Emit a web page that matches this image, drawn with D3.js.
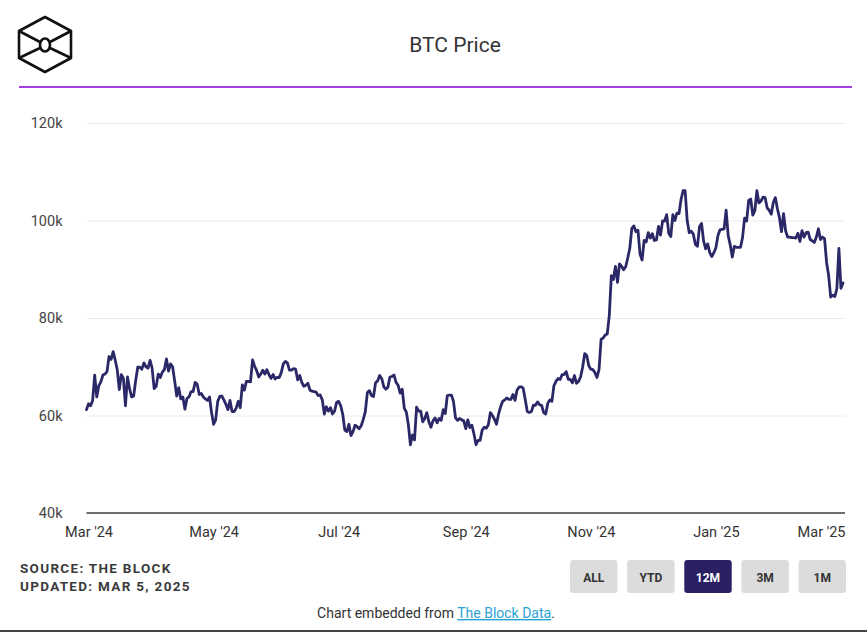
<!DOCTYPE html>
<html>
<head>
<meta charset="utf-8">
<script src="https://cdn.jsdelivr.net/npm/d3@7"></script>
<style>
  html, body { margin: 0; padding: 0; background: #fff; }
  svg { display: block; font-family: Roboto, "Noto Sans", Arial, sans-serif; }
</style>
</head>
<body>
<svg id="chart" width="867" height="635"></svg>
<script>
// ---- DATA (daily close, thousands USD), first day = 2024-02-29 ----
const startDate = "2024-02-29";
const priceK = [
  61.2,
  // Mar 2024
  62.4, 62.0, 63.1, 68.3, 63.8, 66.1, 66.9, 68.3, 68.5, 69.0, 72.1, 71.5, 73.1, 71.4, 69.4, 65.3,
  68.4, 67.6, 62.0, 67.9, 65.5, 63.8, 64.0, 67.2, 69.9, 69.9, 69.5, 70.8, 70.0, 69.7, 71.3,
  // Apr 2024
  69.7, 65.5, 66.0, 68.5, 67.8, 68.9, 69.4, 71.6, 69.1, 70.6, 70.0, 67.1, 64.0, 65.7, 63.4,
  63.8, 61.3, 63.5, 63.8, 64.9, 64.9, 66.8, 66.4, 64.3, 64.5, 63.8, 63.4, 63.1, 63.8, 60.6,
  // May 2024
  58.2, 59.1, 62.9, 63.9, 64.0, 63.2, 62.3, 61.2, 63.1, 60.8, 60.8, 61.5, 62.9, 61.6, 66.3, 65.2,
  67.0, 67.0, 66.9, 71.4, 70.1, 69.2, 67.9, 68.5, 69.3, 68.5, 69.4, 68.4, 67.6, 68.4, 67.5,
  // Jun 2024
  67.8, 67.8, 68.8, 70.6, 71.1, 70.8, 69.3, 69.3, 69.6, 69.5, 67.3, 68.2, 66.8, 66.0, 66.2,
  66.6, 65.2, 65.0, 64.9, 64.8, 64.1, 64.2, 63.2, 60.3, 61.8, 60.9, 61.6, 60.3, 60.9, 62.7,
  // Jul 2024
  62.9, 62.0, 60.2, 57.0, 56.7, 58.2, 55.9, 56.7, 58.0, 57.7, 57.3, 57.9, 59.2, 60.8, 64.7, 65.1,
  64.1, 63.9, 66.7, 67.1, 68.2, 67.6, 65.9, 65.4, 65.8, 67.9, 68.0, 68.3, 66.8, 66.2, 64.6,
  // Aug 2024
  65.4, 61.5, 60.7, 58.1, 54.0, 56.0, 55.0, 61.7, 60.9, 60.9, 58.7, 59.4, 60.6, 58.7, 57.6, 58.9,
  59.5, 58.5, 59.4, 59.0, 61.2, 60.4, 64.1, 64.2, 64.2, 62.9, 59.5, 59.0, 59.4, 59.1, 58.9,
  // Sep 2024
  57.3, 59.1, 57.5, 58.0, 56.2, 54.0, 54.9, 54.9, 57.0, 57.6, 57.4, 58.1, 60.6, 60.0, 59.2,
  58.2, 60.3, 61.8, 62.9, 63.2, 63.6, 63.3, 63.3, 64.3, 63.1, 65.2, 65.8, 65.9, 65.6, 63.3,
  // Oct 2024
  60.8, 60.6, 60.8, 62.1, 62.1, 62.8, 62.2, 62.1, 60.6, 60.3, 62.5, 63.2, 62.9, 66.1, 67.0, 67.6,
  67.4, 68.4, 68.4, 69.0, 67.4, 67.4, 66.7, 68.2, 66.6, 67.0, 67.9, 69.9, 72.7, 72.3, 70.2,
  // Nov 2024
  69.5, 69.4, 68.8, 67.8, 69.4, 75.6, 75.9, 76.5, 76.7, 80.5, 88.7, 87.9, 90.6, 87.3, 91.1,
  90.6, 89.9, 90.5, 92.3, 94.3, 98.4, 98.9, 97.7, 98.0, 93.1, 91.9, 95.9, 95.6, 97.5, 96.4,
  // Dec 2024
  97.3, 95.9, 96.0, 98.8, 97.0, 99.9, 99.9, 101.2, 97.4, 96.7, 101.2, 100.0, 101.5, 101.4, 104.3, 106.1,
  106.1, 100.0, 97.5, 97.8, 97.2, 95.1, 94.7, 98.7, 99.4, 95.8, 94.2, 95.2, 93.4, 92.6, 93.4,
  // Jan 2025
  94.4, 96.9, 98.1, 98.2, 98.3, 102.1, 96.9, 95.0, 92.5, 94.7, 94.5, 94.5, 94.5, 96.5, 100.5, 99.9,
  104.1, 104.4, 101.1, 102.0, 106.1, 103.6, 104.0, 104.8, 104.7, 102.6, 102.1, 101.3, 103.7, 104.7, 102.4,
  // Feb 2025
  100.6, 97.7, 101.4, 97.9, 96.6, 96.6, 96.5, 96.5, 96.4, 97.4, 95.7, 97.9, 96.6, 97.5,
  97.6, 96.1, 95.8, 95.5, 96.6, 98.3, 96.1, 96.6, 96.3, 91.4, 88.7, 84.3, 84.7, 84.4,
  // Mar 2025
  86.0, 94.3, 86.1, 87.2
];
const yTicks = [40000, 60000, 80000, 100000, 120000];
const xTickLabels = ["2024-03-01", "2024-05-01", "2024-07-01", "2024-09-01", "2024-11-01", "2025-01-01", "2025-03-01"];
const rangeButtons = ["ALL", "YTD", "12M", "3M", "1M"];
const activeButton = "12M";
const titleText = "BTC Price";
const sourceLines = ["SOURCE: THE BLOCK", "UPDATED: MAR 5, 2025"];

// ---- BUILD ----
const parse = d3.timeParse("%Y-%m-%d");
const t0 = parse(startDate);
const data = priceK.map((v, i) => ({ date: d3.timeDay.offset(t0, i), value: v * 1000 }));

const svg = d3.select("#chart");
const L = 86.5, R = 843, T = 123, B = 513;

const x = d3.scaleTime().domain(d3.extent(data, d => d.date)).range([L, R]);
const y = d3.scaleLinear().domain([40000, 120000]).range([B, T]);

// Logo
const logo = svg.append("g").attr("fill", "none").attr("stroke", "#111").attr("stroke-width", 2.6).attr("stroke-linejoin", "round");
logo.append("path").attr("d", "M45,17 L71,31 L71,58 L45,72 L19,58 L19,31 Z");
logo.append("path").attr("d", "M19,31 L40,42 M71,31 L50,42 M40,48 L19,58 M50,48 L71,58");
logo.append("ellipse").attr("cx", 45).attr("cy", 45).attr("rx", 5).attr("ry", 6.5);

// Title
svg.append("text").attr("x", 455).attr("y", 52).attr("text-anchor", "middle")
  .attr("font-size", 21).attr("fill", "#333").text(titleText);

// Purple rule
svg.append("line").attr("x1", 19).attr("x2", 852).attr("y1", 87).attr("y2", 87)
  .attr("stroke", "#a33fe0").attr("stroke-width", 2);

// Gridlines
svg.append("g").attr("transform", `translate(${L},0)`)
  .call(d3.axisLeft(y).tickValues(yTicks.filter(v => v > 40000)).tickSize(-(R - L + 2)).tickFormat(""))
  .call(g => g.select(".domain").remove())
  .call(g => g.selectAll("line").attr("stroke", "#ececec").attr("stroke-width", 1));

// Y axis labels
svg.append("g").attr("transform", `translate(${L},0)`)
  .call(d3.axisLeft(y).tickValues(yTicks).tickSize(0).tickPadding(24).tickFormat(d => d / 1000 + "k"))
  .call(g => g.select(".domain").remove())
  .call(g => g.selectAll("text").attr("font-size", 14.5).attr("fill", "#444").attr("font-family", "Roboto, sans-serif"));

// X axis
const xAxisG = svg.append("g").attr("transform", `translate(0,${B})`)
  .call(d3.axisBottom(x).tickValues(xTickLabels.map(parse)).tickSize(0).tickPadding(14)
    .tickFormat(d3.timeFormat("%b '%y")))
  .call(g => g.select(".domain").remove())
  .call(g => g.selectAll("text").attr("font-size", 14.5).attr("fill", "#333").attr("font-family", "Roboto, sans-serif"));
// keep last label inside plot
const lastText = xAxisG.selectAll(".tick text").nodes().slice(-1)[0];
if (lastText) {
  const w = lastText.getComputedTextLength();
  const lastX = x(parse(xTickLabels[xTickLabels.length - 1]));
  const over = lastX + w / 2 - (R + 2);
  if (over > 0) d3.select(lastText).attr("dx", -over);
}
svg.append("line").attr("x1", L).attr("x2", R + 2).attr("y1", B).attr("y2", B)
  .attr("stroke", "#6e6e6e").attr("stroke-width", 2);

// Price line
svg.append("path").datum(data)
  .attr("fill", "none").attr("stroke", "#2b2867").attr("stroke-width", 2.8)
  .attr("stroke-linejoin", "round").attr("stroke-linecap", "round")
  .attr("d", d3.line().x(d => x(d.date)).y(d => y(d.value)));

// Source text
svg.selectAll("text.src").data(sourceLines).join("text").attr("class", "src")
  .attr("x", 20).attr("y", (d, i) => 573 + i * 18)
  .attr("font-size", 13.5).attr("font-weight", 700).attr("letter-spacing", 1.3)
  .attr("fill", "#3a3a3a").text(d => d);

// Range buttons
const bx = d3.scaleBand().domain(rangeButtons).range([570, 846]).paddingInner(0.17);
const btn = svg.selectAll("g.btn").data(rangeButtons).join("g").attr("class", "btn")
  .attr("transform", d => `translate(${bx(d)},560)`);
btn.append("rect").attr("width", bx.bandwidth()).attr("height", 33).attr("rx", 3)
  .attr("fill", d => d === activeButton ? "#2a2063" : "#dcdcdc");
btn.append("text").attr("x", bx.bandwidth() / 2).attr("y", 21.5).attr("text-anchor", "middle")
  .attr("font-size", 12).attr("font-weight", 700)
  .attr("fill", d => d === activeButton ? "#fff" : "#333").text(d => d);

// Embedded credit
const credit = svg.append("text").attr("x", 436).attr("y", 618).attr("text-anchor", "middle")
  .attr("font-size", 14).attr("fill", "#333");
credit.append("tspan").text("Chart embedded from ");
credit.append("tspan").attr("fill", "#2aa3d6").attr("text-decoration", "underline").text("The Block Data");
credit.append("tspan").text(".");

// Bottom border
svg.append("line").attr("x1", 0).attr("x2", 867).attr("y1", 631).attr("y2", 631)
  .attr("stroke", "#444").attr("stroke-width", 2);
</script>
</body>
</html>
